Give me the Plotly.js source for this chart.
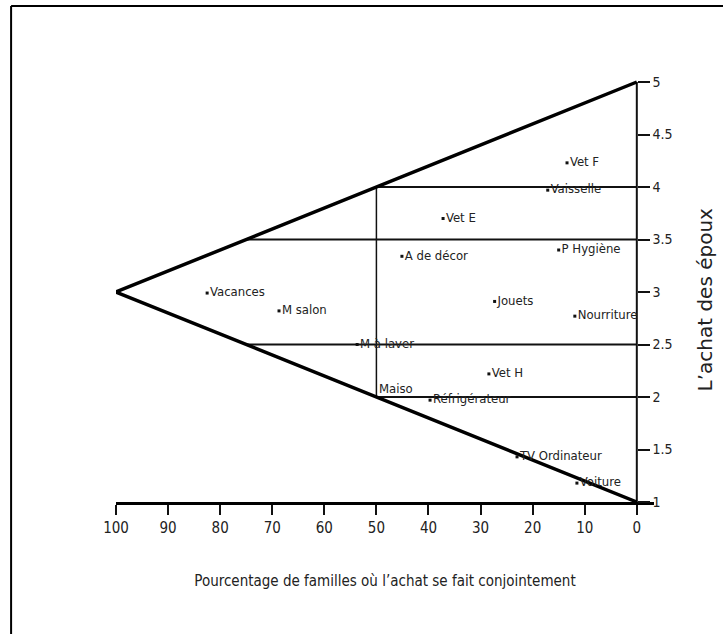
<!DOCTYPE html>
<html>
<head>
<meta charset="utf-8">
<script src="https://cdn.plot.ly/plotly-3.0.1.min.js"></script>
<style>html,body{margin:0;padding:0;background:#fff;}#chart{width:723px;height:634px;}</style>
</head>
<body>
<div id="chart"></div>
<script>
// Products: percentage of joint purchase (x) and spouse-dominance score (y)
const labels = ["Vet F", "Vaisselle", "Vet E", "P Hygiène", "A de décor", "Jouets", "Nourriture",
  "Vacances", "M salon", "M à laver", "Vet H", "Réfrigérateur", "TV Ordinateur", "Voiture"];
const xValues = [13.4, 17.1, 37.2, 15.0, 45.1, 27.3, 11.9, 82.5, 68.7, 53.7, 28.4, 39.7, 23.0, 11.5];
const yValues = [4.23, 3.97, 3.70, 3.40, 3.34, 2.91, 2.77, 2.99, 2.82, 2.50, 2.22, 1.97, 1.43, 1.18];

// Label without a visible marker
const extraLabel = ["Maiso"];
const extraX = [49.5];
const extraY = [2.07];

// Frame of the diagram
const triangleX = [0, 100, 0];
const triangleY = [5, 3, 1];
const rightEdgeX = [0, 0];
const rightEdgeY = [1, 5];
const hLines = [ // [xStart, xEnd, y]
  [50, 0, 4],
  [75, 0, 3.5],
  [75, 0, 2.5],
  [50, 0, 2]
];
const vLineX = [50, 50];
const vLineY = [2, 4];

const xTicks = [100, 90, 80, 70, 60, 50, 40, 30, 20, 10, 0];
const yTicks = [1, 1.5, 2, 2.5, 3, 3.5, 4, 4.5, 5];

const narrow = '"Liberation Sans Narrow", "DejaVu Sans Condensed", Arial Narrow, sans-serif';

const traces = [];
hLines.forEach(h => traces.push({
  x: [h[0], h[1]], y: [h[2], h[2]], mode: 'lines', line: {color: '#111', width: 2},
  hoverinfo: 'skip', showlegend: false
}));
traces.push({x: vLineX, y: vLineY, mode: 'lines', line: {color: '#111', width: 1.5}, hoverinfo: 'skip', showlegend: false});
traces.push({x: rightEdgeX, y: rightEdgeY, mode: 'lines', line: {color: '#111', width: 2}, hoverinfo: 'skip', showlegend: false});
traces.push({x: triangleX, y: triangleY, mode: 'lines', line: {color: '#000', width: 3.5}, hoverinfo: 'skip', showlegend: false});
traces.push({
  x: xValues, y: yValues, text: labels, mode: 'markers+text', textposition: 'middle right',
  marker: {symbol: 'square', size: 3, color: '#111'},
  textfont: {family: narrow, size: 13, color: '#222'}, cliponaxis: false, showlegend: false
});
traces.push({
  x: extraX, y: extraY, text: extraLabel, mode: 'text', textposition: 'middle right',
  textfont: {family: narrow, size: 13, color: '#222'}, cliponaxis: false, showlegend: false
});

const layout = {
  width: 723, height: 634,
  margin: {l: 116, r: 69, t: 61, b: 132},
  paper_bgcolor: '#fff', plot_bgcolor: '#fff',
  showlegend: false,
  xaxis: {
    range: [100, -3.3], tickvals: xTicks, ticktext: xTicks.map(String),
    showgrid: false, zeroline: false, showline: true, linecolor: '#000', linewidth: 3,
    ticks: 'outside', ticklen: 10, tickwidth: 2, tickcolor: '#111',
    tickfont: {family: narrow, size: 15, color: '#222'},
    title: {text: "Pourcentage de familles où l’achat se fait conjointement", font: {family: narrow, size: 15, color: '#222'}, standoff: 40}
  },
  yaxis: {
    range: [1, 5.2], tickvals: yTicks, ticktext: yTicks.map(String),
    side: 'right', anchor: 'free', position: 0.968,
    showgrid: false, zeroline: false, showline: false,
    ticks: 'outside', ticklen: 12, tickwidth: 2, tickcolor: '#111',
    tickfont: {family: narrow, size: 14, color: '#222'}
  },
  annotations: [{
    text: "L’achat des époux", xref: 'paper', yref: 'y', x: 1.095, y: 2.93,
    textangle: -90, showarrow: false, xanchor: 'center', yanchor: 'middle',
    font: {family: '"DejaVu Sans", Verdana, sans-serif', size: 20, color: '#222'}
  }],
  shapes: [
    {type: 'line', xref: 'paper', yref: 'paper', x0: -0.195, x1: -0.195, y0: -0.31, y1: 1.125, line: {color: '#000', width: 2}},
    {type: 'line', xref: 'paper', yref: 'paper', x0: -0.195, x1: 1.14, y0: 1.125, y1: 1.125, line: {color: '#000', width: 2}}
  ]
};

Plotly.newPlot('chart', traces, layout, {displayModeBar: false, staticPlot: true});
</script>
</body>
</html>
